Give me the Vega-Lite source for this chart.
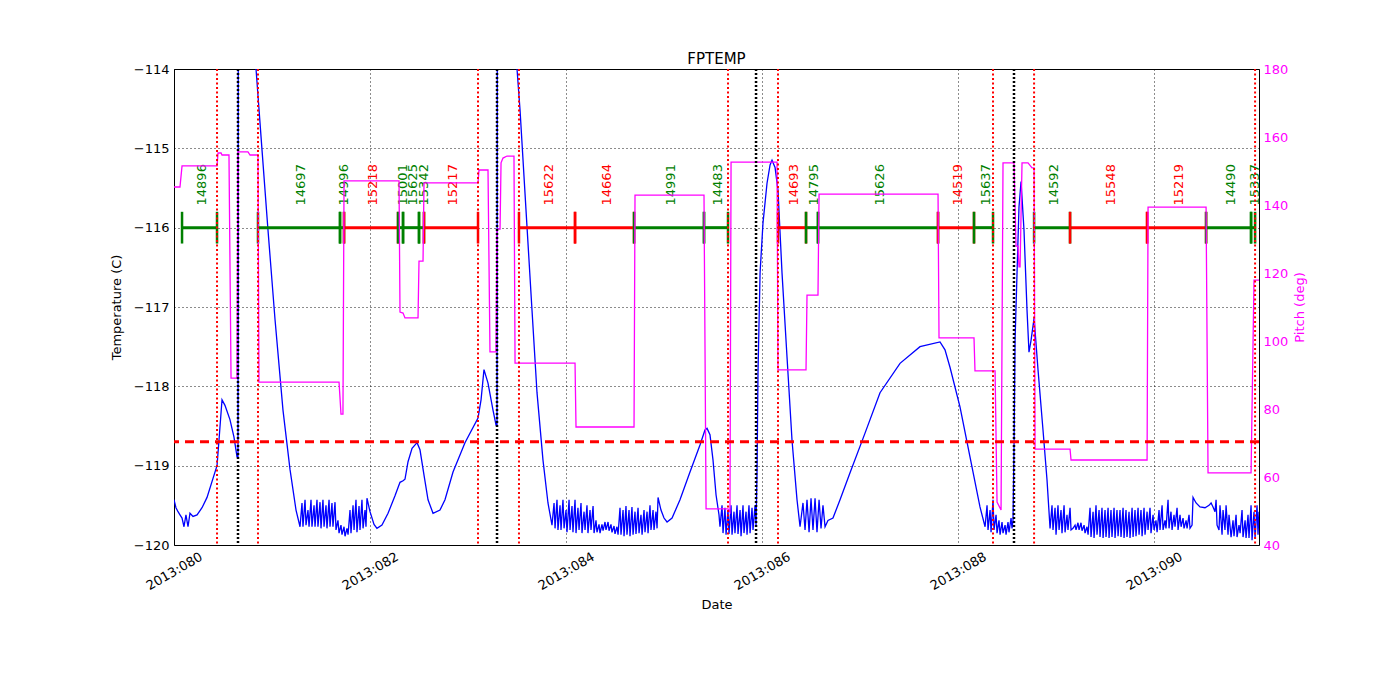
{
  "$schema": "https://vega.github.io/schema/vega-lite/v6.json",
  "description": "FPTEMP temperature and pitch over 2013:080-091, with observation segments, radiation zone and perigee markers.",
  "background": "white",
  "autosize": {"type": "none"},
  "padding": {"left": 174, "top": 69, "right": 141, "bottom": 155},
  "width": 1085,
  "height": 476,
  "title": {"text": "FPTEMP", "fontSize": 15, "fontWeight": "normal", "font": "DejaVu Sans", "color": "black", "offset": -4},
  "config": {
    "font": "DejaVu Sans",
    "view": {"stroke": "black", "strokeWidth": 1},
    "axis": {
      "labelFontSize": 13, "titleFontSize": 13, "titleFontWeight": "normal",
      "labelColor": "black", "titleColor": "black",
      "domain": false, "ticks": false,
      "gridColor": "black", "gridDash": [1, 3], "gridWidth": 1, "gridOpacity": 0.9
    }
  },
  "datasets": {
    "temp": [
      {"d":80.000,"t":-119.43},{"d":80.020,"t":-119.53},{"d":80.041,"t":-119.58},{"d":80.061,"t":-119.62},{"d":80.082,"t":-119.66},{"d":80.102,"t":-119.77},
      {"d":80.122,"t":-119.62},{"d":80.143,"t":-119.77},{"d":80.163,"t":-119.60},{"d":80.194,"t":-119.64},{"d":80.235,"t":-119.62},{"d":80.286,"t":-119.53},
      {"d":80.337,"t":-119.40},{"d":80.398,"t":-119.16},{"d":80.439,"t":-119.00},{"d":80.459,"t":-118.68},{"d":80.490,"t":-118.17},{"d":80.520,"t":-118.24},
      {"d":80.571,"t":-118.42},{"d":80.612,"t":-118.64},{"d":80.643,"t":-118.89},{"d":80.653,"t":-118.89},{"d":80.656,"t":-113.0},{"d":80.820,"t":-113.0},
      {"d":80.837,"t":-114.00},{"d":80.898,"t":-115.02},{"d":80.959,"t":-116.03},{"d":81.031,"t":-117.16},{"d":81.112,"t":-118.30},{"d":81.184,"t":-119.05},
      {"d":81.245,"t":-119.56},{"d":81.286,"t":-119.77},
      {"d":81.306,"t":-119.47},{"d":81.316,"t":-119.77},{"d":81.337,"t":-119.43},{"d":81.347,"t":-119.75},{"d":81.367,"t":-119.56},{"d":81.378,"t":-119.77},
      {"d":81.398,"t":-119.43},{"d":81.408,"t":-119.77},{"d":81.429,"t":-119.50},{"d":81.439,"t":-119.77},{"d":81.459,"t":-119.43},{"d":81.469,"t":-119.77},
      {"d":81.490,"t":-119.46},{"d":81.500,"t":-119.79},{"d":81.520,"t":-119.43},{"d":81.531,"t":-119.77},{"d":81.551,"t":-119.50},{"d":81.561,"t":-119.79},
      {"d":81.582,"t":-119.43},{"d":81.592,"t":-119.77},{"d":81.612,"t":-119.47},{"d":81.622,"t":-119.77},{"d":81.643,"t":-119.46},{"d":81.653,"t":-119.81},
      {"d":81.673,"t":-119.69},{"d":81.684,"t":-119.85},{"d":81.704,"t":-119.75},{"d":81.714,"t":-119.87},{"d":81.735,"t":-119.77},{"d":81.745,"t":-119.89},
      {"d":81.765,"t":-119.79},{"d":81.776,"t":-119.87},{"d":81.796,"t":-119.56},{"d":81.806,"t":-119.85},{"d":81.827,"t":-119.50},{"d":81.837,"t":-119.81},
      {"d":81.857,"t":-119.43},{"d":81.867,"t":-119.84},{"d":81.888,"t":-119.51},{"d":81.898,"t":-119.81},{"d":81.918,"t":-119.43},{"d":81.929,"t":-119.79},
      {"d":81.949,"t":-119.56},{"d":81.959,"t":-119.77},{"d":81.969,"t":-119.41},
      {"d":82.000,"t":-119.58},{"d":82.041,"t":-119.74},{"d":82.071,"t":-119.79},{"d":82.122,"t":-119.75},{"d":82.184,"t":-119.60},{"d":82.255,"t":-119.38},
      {"d":82.306,"t":-119.21},{"d":82.337,"t":-119.19},{"d":82.357,"t":-119.17},{"d":82.388,"t":-118.95},{"d":82.429,"t":-118.78},{"d":82.480,"t":-118.71},
      {"d":82.510,"t":-118.80},{"d":82.551,"t":-119.12},{"d":82.592,"t":-119.43},{"d":82.643,"t":-119.60},{"d":82.714,"t":-119.56},{"d":82.765,"t":-119.43},
      {"d":82.847,"t":-119.08},{"d":82.969,"t":-118.71},{"d":83.102,"t":-118.40},{"d":83.133,"t":-118.17},{"d":83.163,"t":-117.79},{"d":83.204,"t":-117.96},
      {"d":83.255,"t":-118.30},{"d":83.286,"t":-118.49},{"d":83.296,"t":-118.49},{"d":83.299,"t":-113.0},{"d":83.480,"t":-113.0},
      {"d":83.500,"t":-114.00},{"d":83.531,"t":-114.52},{"d":83.602,"t":-115.99},{"d":83.653,"t":-117.04},{"d":83.704,"t":-118.08},{"d":83.765,"t":-118.93},
      {"d":83.816,"t":-119.47},{"d":83.857,"t":-119.75},
      {"d":83.878,"t":-119.47},{"d":83.888,"t":-119.79},{"d":83.908,"t":-119.43},{"d":83.918,"t":-119.81},{"d":83.939,"t":-119.50},{"d":83.949,"t":-119.81},
      {"d":83.969,"t":-119.43},{"d":83.980,"t":-119.79},{"d":84.000,"t":-119.56},{"d":84.010,"t":-119.84},{"d":84.031,"t":-119.43},{"d":84.041,"t":-119.81},
      {"d":84.061,"t":-119.51},{"d":84.071,"t":-119.84},{"d":84.092,"t":-119.43},{"d":84.102,"t":-119.85},{"d":84.122,"t":-119.53},{"d":84.133,"t":-119.81},
      {"d":84.153,"t":-119.47},{"d":84.163,"t":-119.85},{"d":84.184,"t":-119.58},{"d":84.194,"t":-119.81},{"d":84.214,"t":-119.50},{"d":84.224,"t":-119.85},
      {"d":84.245,"t":-119.56},{"d":84.255,"t":-119.81},{"d":84.276,"t":-119.51},{"d":84.286,"t":-119.85},{"d":84.306,"t":-119.69},{"d":84.316,"t":-119.84},
      {"d":84.337,"t":-119.74},{"d":84.347,"t":-119.85},{"d":84.367,"t":-119.74},{"d":84.378,"t":-119.82},{"d":84.398,"t":-119.71},{"d":84.408,"t":-119.81},
      {"d":84.429,"t":-119.71},{"d":84.439,"t":-119.82},{"d":84.459,"t":-119.74},{"d":84.469,"t":-119.84},{"d":84.490,"t":-119.76},{"d":84.500,"t":-119.86},
      {"d":84.520,"t":-119.77},{"d":84.531,"t":-119.87},{"d":84.551,"t":-119.53},{"d":84.561,"t":-119.87},{"d":84.582,"t":-119.56},{"d":84.592,"t":-119.89},
      {"d":84.612,"t":-119.51},{"d":84.622,"t":-119.87},{"d":84.643,"t":-119.56},{"d":84.653,"t":-119.89},{"d":84.673,"t":-119.52},{"d":84.684,"t":-119.87},
      {"d":84.704,"t":-119.58},{"d":84.714,"t":-119.86},{"d":84.735,"t":-119.53},{"d":84.745,"t":-119.85},{"d":84.765,"t":-119.62},{"d":84.776,"t":-119.87},
      {"d":84.796,"t":-119.56},{"d":84.806,"t":-119.84},{"d":84.827,"t":-119.58},{"d":84.837,"t":-119.85},{"d":84.857,"t":-119.50},{"d":84.867,"t":-119.81},
      {"d":84.888,"t":-119.56},{"d":84.898,"t":-119.81},{"d":84.918,"t":-119.58},{"d":84.929,"t":-119.79},{"d":84.939,"t":-119.40},
      {"d":84.969,"t":-119.56},{"d":85.000,"t":-119.66},{"d":85.031,"t":-119.71},{"d":85.082,"t":-119.66},{"d":85.163,"t":-119.43},{"d":85.265,"t":-119.08},
      {"d":85.367,"t":-118.74},{"d":85.418,"t":-118.55},{"d":85.439,"t":-118.53},{"d":85.469,"t":-118.61},{"d":85.500,"t":-118.93},{"d":85.531,"t":-119.37},
      {"d":85.561,"t":-119.62},{"d":85.571,"t":-119.77},
      {"d":85.592,"t":-119.50},{"d":85.602,"t":-119.85},{"d":85.622,"t":-119.53},{"d":85.633,"t":-119.87},{"d":85.653,"t":-119.56},{"d":85.663,"t":-119.86},
      {"d":85.684,"t":-119.50},{"d":85.694,"t":-119.87},{"d":85.714,"t":-119.58},{"d":85.724,"t":-119.85},{"d":85.745,"t":-119.50},{"d":85.755,"t":-119.86},
      {"d":85.776,"t":-119.56},{"d":85.786,"t":-119.89},{"d":85.806,"t":-119.50},{"d":85.816,"t":-119.85},{"d":85.837,"t":-119.58},{"d":85.847,"t":-119.87},
      {"d":85.867,"t":-119.50},{"d":85.878,"t":-119.85},{"d":85.898,"t":-119.53},{"d":85.908,"t":-119.81},{"d":85.929,"t":-119.50},{"d":85.939,"t":-119.75},
      {"d":85.949,"t":-119.09},{"d":85.959,"t":-117.83},{"d":85.980,"t":-116.57},{"d":86.010,"t":-115.94},{"d":86.051,"t":-115.44},{"d":86.082,"t":-115.21},
      {"d":86.102,"t":-115.15},{"d":86.133,"t":-115.24},{"d":86.163,"t":-115.53},{"d":86.204,"t":-116.57},{"d":86.255,"t":-117.63},{"d":86.306,"t":-118.68},
      {"d":86.357,"t":-119.43},{"d":86.388,"t":-119.77},
      {"d":86.418,"t":-119.47},{"d":86.439,"t":-119.81},{"d":86.459,"t":-119.43},{"d":86.480,"t":-119.84},{"d":86.500,"t":-119.41},{"d":86.520,"t":-119.81},
      {"d":86.541,"t":-119.41},{"d":86.561,"t":-119.84},{"d":86.582,"t":-119.43},{"d":86.602,"t":-119.79},{"d":86.622,"t":-119.50},{"d":86.643,"t":-119.77},
      {"d":86.673,"t":-119.69},{"d":86.724,"t":-119.66},{"d":86.796,"t":-119.43},{"d":86.898,"t":-119.09},{"d":87.051,"t":-118.59},{"d":87.204,"t":-118.08},
      {"d":87.408,"t":-117.71},{"d":87.612,"t":-117.50},{"d":87.816,"t":-117.44},{"d":87.867,"t":-117.54},{"d":87.918,"t":-117.76},{"d":88.020,"t":-118.26},
      {"d":88.122,"t":-118.89},{"d":88.224,"t":-119.52},{"d":88.276,"t":-119.77},
      {"d":88.296,"t":-119.50},{"d":88.306,"t":-119.81},{"d":88.327,"t":-119.56},{"d":88.337,"t":-119.84},{"d":88.357,"t":-119.43},{"d":88.367,"t":-119.81},
      {"d":88.388,"t":-119.62},{"d":88.398,"t":-119.85},{"d":88.418,"t":-119.69},{"d":88.429,"t":-119.87},{"d":88.449,"t":-119.71},{"d":88.459,"t":-119.85},
      {"d":88.480,"t":-119.75},{"d":88.490,"t":-119.87},{"d":88.510,"t":-119.71},{"d":88.520,"t":-119.84},{"d":88.541,"t":-119.66},{"d":88.551,"t":-119.79},
      {"d":88.561,"t":-119.69},{"d":88.571,"t":-118.80},{"d":88.582,"t":-117.42},{"d":88.602,"t":-116.57},{"d":88.622,"t":-115.74},{"d":88.643,"t":-115.42},
      {"d":88.673,"t":-116.03},{"d":88.704,"t":-117.04},{"d":88.724,"t":-117.57},{"d":88.745,"t":-117.42},{"d":88.776,"t":-117.14},{"d":88.816,"t":-117.79},
      {"d":88.867,"t":-118.55},{"d":88.908,"t":-119.18},{"d":88.939,"t":-119.79},
      {"d":88.959,"t":-119.50},{"d":88.969,"t":-119.81},{"d":88.990,"t":-119.53},{"d":89.000,"t":-119.87},{"d":89.020,"t":-119.50},{"d":89.031,"t":-119.81},
      {"d":89.051,"t":-119.56},{"d":89.061,"t":-119.85},{"d":89.082,"t":-119.50},{"d":89.092,"t":-119.84},{"d":89.112,"t":-119.62},{"d":89.122,"t":-119.81},
      {"d":89.143,"t":-119.53},{"d":89.153,"t":-119.81},{"d":89.173,"t":-119.79},{"d":89.194,"t":-119.75},{"d":89.204,"t":-119.81},{"d":89.224,"t":-119.72},
      {"d":89.235,"t":-119.81},{"d":89.255,"t":-119.72},{"d":89.265,"t":-119.82},{"d":89.286,"t":-119.75},{"d":89.296,"t":-119.85},{"d":89.316,"t":-119.77},
      {"d":89.327,"t":-119.87},{"d":89.347,"t":-119.53},{"d":89.357,"t":-119.90},{"d":89.378,"t":-119.58},{"d":89.388,"t":-119.91},{"d":89.408,"t":-119.50},
      {"d":89.418,"t":-119.87},{"d":89.439,"t":-119.56},{"d":89.449,"t":-119.90},{"d":89.469,"t":-119.53},{"d":89.480,"t":-119.91},{"d":89.500,"t":-119.56},
      {"d":89.510,"t":-119.90},{"d":89.531,"t":-119.53},{"d":89.541,"t":-119.91},{"d":89.561,"t":-119.56},{"d":89.571,"t":-119.90},{"d":89.592,"t":-119.53},
      {"d":89.602,"t":-119.91},{"d":89.622,"t":-119.56},{"d":89.633,"t":-119.89},{"d":89.653,"t":-119.56},{"d":89.663,"t":-119.90},{"d":89.684,"t":-119.53},
      {"d":89.694,"t":-119.91},{"d":89.714,"t":-119.56},{"d":89.724,"t":-119.90},{"d":89.745,"t":-119.58},{"d":89.755,"t":-119.91},{"d":89.776,"t":-119.53},
      {"d":89.786,"t":-119.90},{"d":89.806,"t":-119.56},{"d":89.816,"t":-119.89},{"d":89.837,"t":-119.53},{"d":89.847,"t":-119.87},{"d":89.867,"t":-119.56},
      {"d":89.878,"t":-119.89},{"d":89.898,"t":-119.53},{"d":89.908,"t":-119.87},{"d":89.929,"t":-119.58},{"d":89.939,"t":-119.81},{"d":89.959,"t":-119.53},
      {"d":89.969,"t":-119.85},{"d":89.990,"t":-119.62},{"d":90.000,"t":-119.81},{"d":90.020,"t":-119.69},{"d":90.031,"t":-119.84},{"d":90.051,"t":-119.56},
      {"d":90.061,"t":-119.81},{"d":90.082,"t":-119.50},{"d":90.092,"t":-119.81},{"d":90.112,"t":-119.69},{"d":90.122,"t":-119.79},{"d":90.143,"t":-119.43},
      {"d":90.153,"t":-119.79},{"d":90.173,"t":-119.58},{"d":90.184,"t":-119.81},{"d":90.204,"t":-119.62},{"d":90.214,"t":-119.77},{"d":90.235,"t":-119.53},
      {"d":90.245,"t":-119.81},{"d":90.265,"t":-119.62},{"d":90.276,"t":-119.77},{"d":90.296,"t":-119.66},{"d":90.306,"t":-119.79},{"d":90.327,"t":-119.69},
      {"d":90.337,"t":-119.79},{"d":90.357,"t":-119.62},{"d":90.367,"t":-119.79},{"d":90.388,"t":-119.75},{"d":90.398,"t":-119.40},{"d":90.429,"t":-119.47},
      {"d":90.469,"t":-119.52},{"d":90.520,"t":-119.53},{"d":90.561,"t":-119.50},{"d":90.582,"t":-119.47},{"d":90.602,"t":-119.52},{"d":90.622,"t":-119.58},
      {"d":90.633,"t":-119.43},{"d":90.643,"t":-119.75},{"d":90.663,"t":-119.81},{"d":90.673,"t":-119.50},{"d":90.694,"t":-119.87},{"d":90.704,"t":-119.56},
      {"d":90.724,"t":-119.81},{"d":90.735,"t":-119.50},{"d":90.755,"t":-119.87},{"d":90.765,"t":-119.62},{"d":90.786,"t":-119.90},{"d":90.806,"t":-119.69},
      {"d":90.816,"t":-119.89},{"d":90.837,"t":-119.62},{"d":90.847,"t":-119.90},{"d":90.867,"t":-119.75},{"d":90.878,"t":-119.85},{"d":90.898,"t":-119.56},
      {"d":90.908,"t":-119.90},{"d":90.929,"t":-119.69},{"d":90.939,"t":-119.91},{"d":90.959,"t":-119.62},{"d":90.969,"t":-119.91},{"d":90.990,"t":-119.50},
      {"d":91.000,"t":-119.94},{"d":91.020,"t":-119.58},{"d":91.031,"t":-119.91},{"d":91.051,"t":-119.50},{"d":91.061,"t":-119.87},{"d":91.071,"t":-119.58}
    ],
    "pitch": [
      {"d":80.000,"p":145.3},{"d":80.061,"p":145.3},{"d":80.082,"p":151.5},{"d":80.439,"p":151.5},{"d":80.449,"p":155.3},{"d":80.480,"p":155.3},
      {"d":80.490,"p":154.7},{"d":80.561,"p":154.7},{"d":80.582,"p":89.1},{"d":80.643,"p":89.1},{"d":80.653,"p":155.6},{"d":80.755,"p":155.6},
      {"d":80.776,"p":154.7},{"d":80.857,"p":154.7},{"d":80.867,"p":87.9},{"d":81.684,"p":87.9},{"d":81.704,"p":78.5},{"d":81.724,"p":78.5},
      {"d":81.735,"p":147.1},{"d":82.296,"p":147.1},{"d":82.306,"p":108.5},{"d":82.337,"p":108.2},{"d":82.357,"p":106.8},{"d":82.490,"p":106.8},
      {"d":82.500,"p":123.5},{"d":82.541,"p":123.5},{"d":82.551,"p":146.5},{"d":83.102,"p":146.5},{"d":83.112,"p":150.3},{"d":83.204,"p":150.3},
      {"d":83.224,"p":96.8},{"d":83.286,"p":96.8},{"d":83.296,"p":132.9},{"d":83.327,"p":132.9},{"d":83.337,"p":152.4},{"d":83.357,"p":153.8},
      {"d":83.398,"p":154.4},{"d":83.469,"p":154.4},{"d":83.480,"p":93.5},{"d":84.092,"p":93.5},{"d":84.102,"p":74.7},{"d":84.694,"p":74.7},
      {"d":84.704,"p":142.9},{"d":85.408,"p":142.9},{"d":85.429,"p":50.6},{"d":85.653,"p":50.6},{"d":85.673,"p":49.7},{"d":85.684,"p":152.6},
      {"d":86.153,"p":152.6},{"d":86.163,"p":91.5},{"d":86.449,"p":91.5},{"d":86.459,"p":113.5},{"d":86.571,"p":113.5},{"d":86.582,"p":143.2},
      {"d":87.796,"p":143.2},{"d":87.806,"p":100.9},{"d":88.163,"p":100.9},{"d":88.173,"p":91.2},{"d":88.378,"p":91.2},{"d":88.398,"p":52.6},
      {"d":88.439,"p":50.3},{"d":88.459,"p":152.4},{"d":88.571,"p":152.4},{"d":88.592,"p":127.9},{"d":88.612,"p":127.9},{"d":88.622,"p":121.8},
      {"d":88.633,"p":121.8},{"d":88.653,"p":152.4},{"d":88.714,"p":152.4},{"d":88.755,"p":150.9},{"d":88.776,"p":150.9},{"d":88.786,"p":68.2},
      {"d":89.143,"p":68.2},{"d":89.153,"p":65.0},{"d":89.929,"p":65.0},{"d":89.939,"p":139.4},{"d":90.531,"p":139.4},{"d":90.551,"p":61.2},
      {"d":90.990,"p":61.2},{"d":91.020,"p":117.9},{"d":91.071,"p":117.9}
    ],
    "obs": [
      {"obsid":"14896","flag":"ok","s":80.082,"e":80.439},
      {"obsid":"14697","flag":"ok","s":80.857,"e":81.694},
      {"obsid":"14996","flag":"ok","s":81.694,"e":81.735},
      {"obsid":"15218","flag":"hot","s":81.735,"e":82.286},
      {"obsid":"15001","flag":"ok","s":82.286,"e":82.337},
      {"obsid":"15625","flag":"ok","s":82.337,"e":82.500},
      {"obsid":"15342","flag":"ok","s":82.500,"e":82.551},
      {"obsid":"15217","flag":"hot","s":82.551,"e":83.102},
      {"obsid":"15622","flag":"hot","s":83.520,"e":84.092},
      {"obsid":"14664","flag":"hot","s":84.092,"e":84.694},
      {"obsid":"14991","flag":"ok","s":84.694,"e":85.408},
      {"obsid":"14483","flag":"ok","s":85.408,"e":85.653},
      {"obsid":"14693","flag":"hot","s":86.163,"e":86.449},
      {"obsid":"14795","flag":"ok","s":86.449,"e":86.571},
      {"obsid":"15626","flag":"ok","s":86.571,"e":87.796},
      {"obsid":"14519","flag":"hot","s":87.796,"e":88.163},
      {"obsid":"15637","flag":"ok","s":88.163,"e":88.357},
      {"obsid":"14592","flag":"ok","s":88.776,"e":89.143},
      {"obsid":"15548","flag":"hot","s":89.143,"e":89.929},
      {"obsid":"15219","flag":"hot","s":89.929,"e":90.531},
      {"obsid":"14490","flag":"ok","s":90.531,"e":90.990},
      {"obsid":"15337","flag":"ok","s":90.990,"e":91.031}
    ],
    "events": [
      {"d":80.439,"kind":"radzone"},{"d":80.857,"kind":"radzone"},{"d":83.102,"kind":"radzone"},{"d":83.520,"kind":"radzone"},
      {"d":85.653,"kind":"radzone"},{"d":86.163,"kind":"radzone"},{"d":88.357,"kind":"radzone"},{"d":88.776,"kind":"radzone"},
      {"d":91.031,"kind":"radzone"},
      {"d":80.653,"kind":"perigee"},{"d":83.296,"kind":"perigee"},{"d":85.939,"kind":"perigee"},{"d":88.571,"kind":"perigee"}
    ],
    "limit": [{"t": -118.7}]
  },
  "layer": [
    {
      "data": {"name": "temp"},
      "mark": {"type": "line", "color": "#0000ff", "strokeWidth": 1.3, "clip": true},
      "encoding": {
        "x": {
          "field": "d", "type": "quantitative", "title": "Date",
          "scale": {"domain": [80, 91.071], "nice": false, "zero": false},
          "axis": {
            "orient": "bottom",
            "values": [80, 82, 84, 86, 88, 90],
            "labelExpr": "'2013:0' + format(datum.value, 'd')",
            "labelAngle": -30, "labelAlign": "center", "labelBaseline": "middle",
            "labelPadding": 26, "labelFlush": false, "labelOverlap": false,
            "grid": true,
            "titlePadding": 6
          }
        },
        "y": {
          "field": "t", "type": "quantitative",
          "scale": {"domain": [-120, -114], "nice": false, "zero": false},
          "axis": {
            "orient": "left",
            "values": [-120, -119, -118, -117, -116, -115, -114],
            "format": "d", "grid": true,
            "labelPadding": 5,
            "title": "Temperature (C)", "titlePadding": 10
          }
        }
      }
    },
    {
      "data": {"name": "obs"},
      "mark": {"type": "rule", "strokeWidth": 3},
      "encoding": {
        "x": {"field": "s", "type": "quantitative", "title": "Date", "scale": {"domain": [80, 91.071], "nice": false, "zero": false}},
        "x2": {"field": "e"},
        "y": {"datum": -116, "type": "quantitative", "scale": {"domain": [-120, -114], "nice": false, "zero": false}, "axis": null},
        "color": {"field": "flag", "type": "nominal", "scale": {"domain": ["ok", "hot"], "range": ["#008000", "#ff0000"]}, "legend": null}
      }
    },
    {
      "data": {"name": "obs"},
      "transform": [{"fold": ["s", "e"], "as": ["edge", "v"]}],
      "mark": {"type": "rule", "strokeWidth": 2.5},
      "encoding": {
        "x": {"field": "v", "type": "quantitative", "title": "Date", "scale": {"domain": [80, 91.071], "nice": false, "zero": false}},
        "y": {"datum": -115.8, "type": "quantitative", "scale": {"domain": [-120, -114], "nice": false, "zero": false}, "axis": null},
        "y2": {"datum": -116.2},
        "color": {"field": "flag", "type": "nominal", "scale": {"domain": ["ok", "hot"], "range": ["#008000", "#ff0000"]}, "legend": null}
      }
    },
    {
      "data": {"name": "obs"},
      "transform": [
        {"fold": ["s", "e"], "as": ["edge", "v"]},
        {"aggregate": [{"op": "mean", "field": "v", "as": "mid"}], "groupby": ["obsid", "flag"]}
      ],
      "mark": {"type": "text", "angle": 270, "align": "left", "baseline": "middle", "fontSize": 13, "dy": 2},
      "encoding": {
        "x": {"field": "mid", "type": "quantitative", "title": "Date", "scale": {"domain": [80, 91.071], "nice": false, "zero": false}},
        "y": {"datum": -115.72, "type": "quantitative", "scale": {"domain": [-120, -114], "nice": false, "zero": false}, "axis": null},
        "text": {"field": "obsid"},
        "color": {"field": "flag", "type": "nominal", "scale": {"domain": ["ok", "hot"], "range": ["#008000", "#ff0000"]}, "legend": null}
      }
    },
    {
      "data": {"name": "pitch"},
      "mark": {"type": "line", "color": "#ff00ff", "strokeWidth": 1.3, "clip": true},
      "encoding": {
        "x": {"field": "d", "type": "quantitative", "title": "Date", "scale": {"domain": [80, 91.071], "nice": false, "zero": false}},
        "y": {
          "field": "p", "type": "quantitative",
          "scale": {"domain": [40, 180], "nice": false, "zero": false},
          "axis": {
            "orient": "right",
            "values": [40, 60, 80, 100, 120, 140, 160, 180],
            "grid": false,
            "labelColor": "#ff00ff", "labelPadding": 4,
            "title": "Pitch (deg)", "titleColor": "#ff00ff",
            "titleAngle": 270, "titleBaseline": "top", "titlePadding": 6
          }
        }
      }
    },
    {
      "data": {"name": "events"},
      "transform": [{"filter": "datum.kind == 'radzone'"}],
      "mark": {"type": "rule", "color": "#ff0000", "strokeWidth": 2, "strokeDash": [2, 2.5]},
      "encoding": {
        "x": {"field": "d", "type": "quantitative", "title": "Date", "scale": {"domain": [80, 91.071], "nice": false, "zero": false}}
      }
    },
    {
      "data": {"name": "events"},
      "transform": [{"filter": "datum.kind == 'perigee'"}],
      "mark": {"type": "rule", "color": "black", "strokeWidth": 2.5, "strokeDash": [2, 2]},
      "encoding": {
        "x": {"field": "d", "type": "quantitative", "title": "Date", "scale": {"domain": [80, 91.071], "nice": false, "zero": false}}
      }
    },
    {
      "data": {"name": "limit"},
      "mark": {"type": "rule", "color": "#ff0000", "strokeWidth": 3, "strokeDash": [9, 6]},
      "encoding": {
        "y": {"field": "t", "type": "quantitative", "scale": {"domain": [-120, -114], "nice": false, "zero": false}, "axis": null}
      }
    }
  ],
  "resolve": {"scale": {"y": "independent"}}
}
